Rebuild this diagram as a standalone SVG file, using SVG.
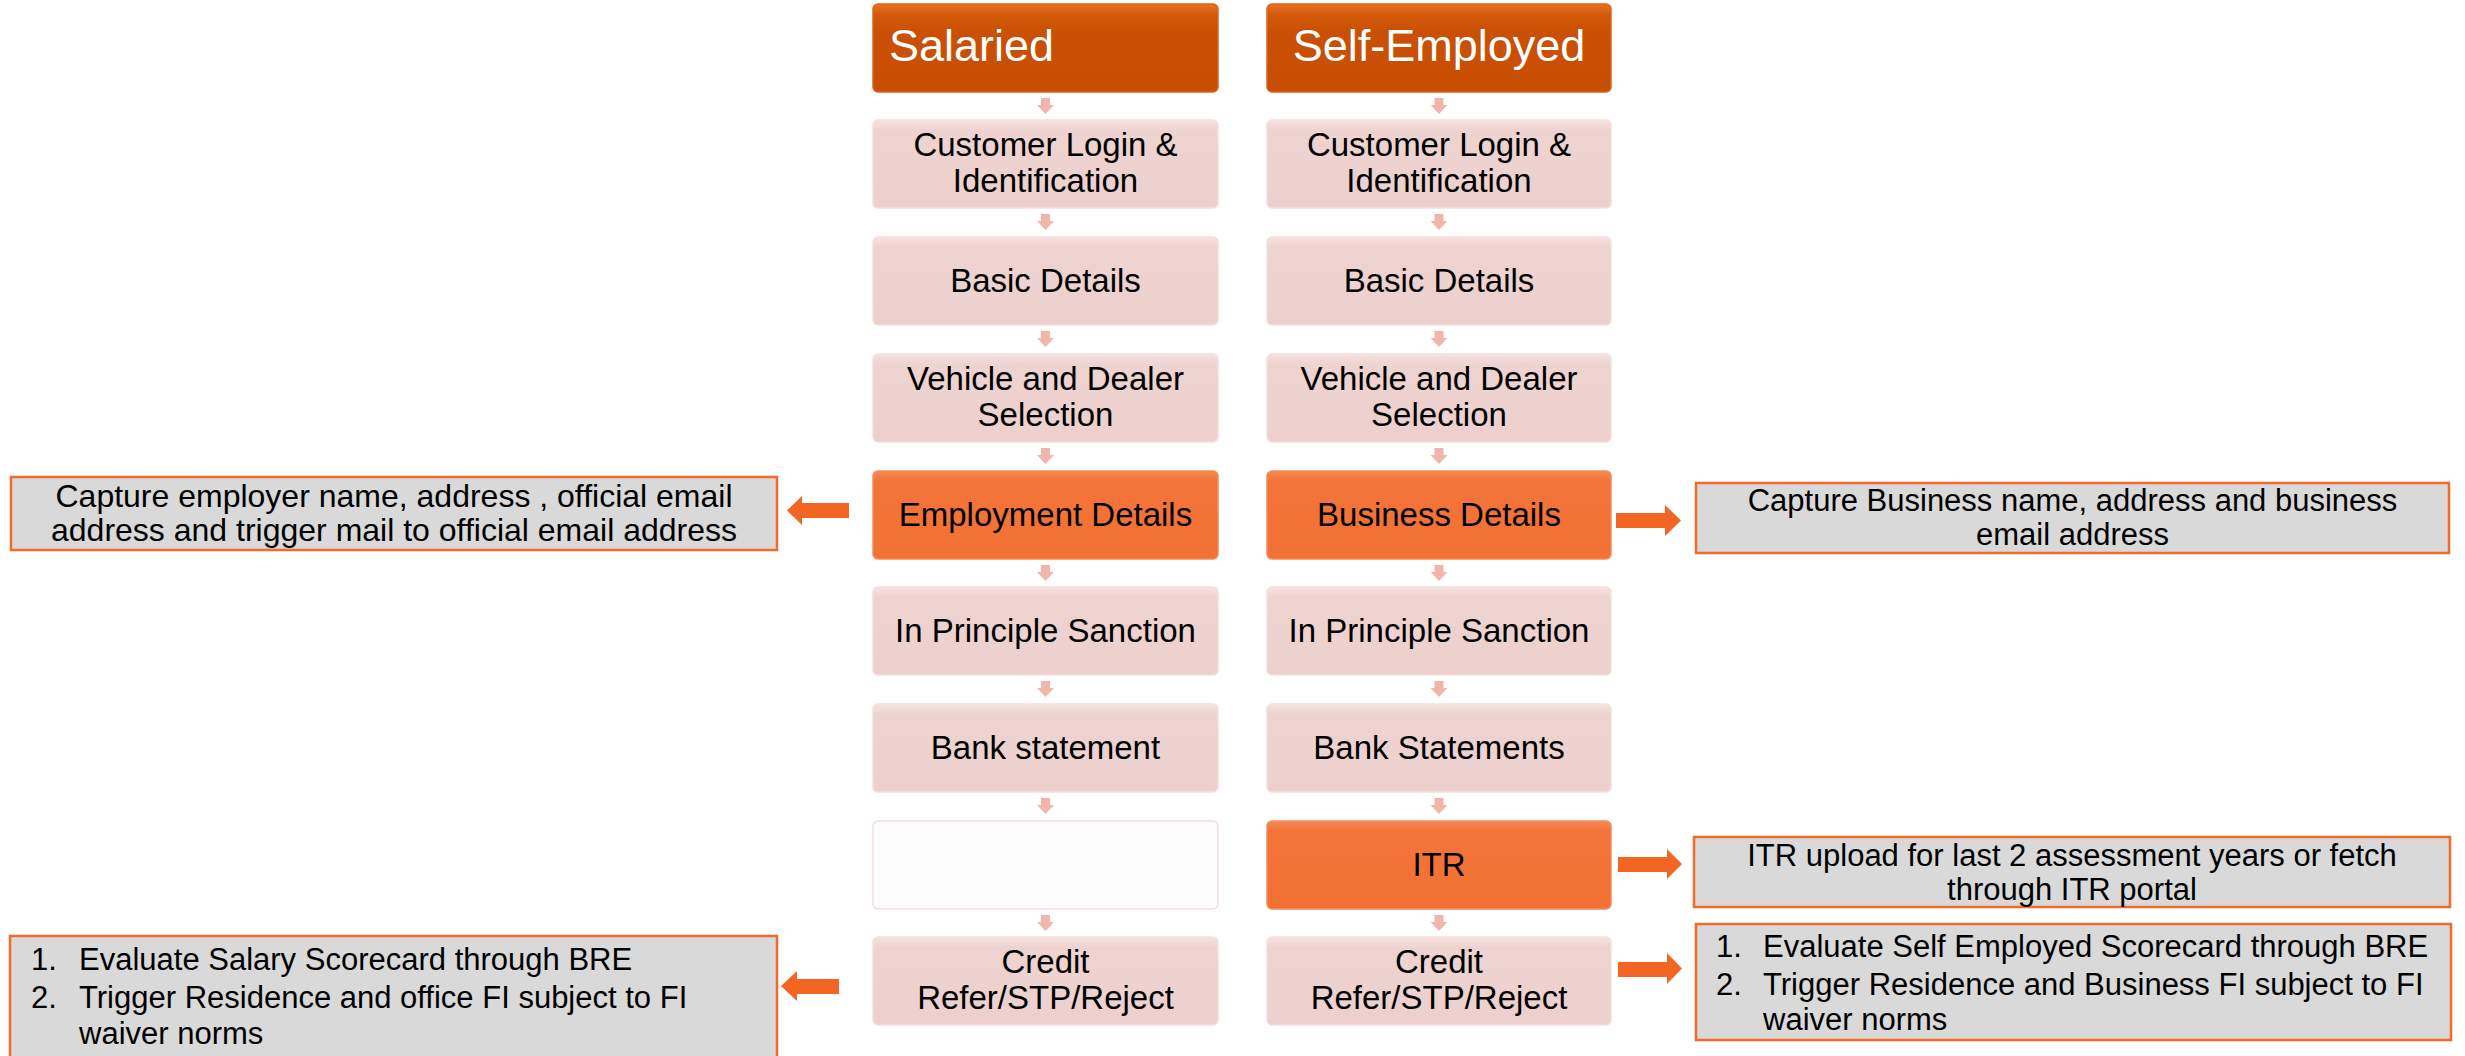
<svg xmlns="http://www.w3.org/2000/svg" width="2465" height="1056" viewBox="0 0 2465 1056">
<defs>
<linearGradient id="gHead" x1="0" y1="0" x2="0" y2="1">
<stop offset="0" stop-color="#E8741F"/>
<stop offset="0.12" stop-color="#D45A0A"/>
<stop offset="0.3" stop-color="#CA5005"/>
<stop offset="1" stop-color="#C84E04"/>
</linearGradient>
<linearGradient id="gPink" x1="0" y1="0" x2="0" y2="1">
<stop offset="0" stop-color="#F6E2E0"/>
<stop offset="0.12" stop-color="#EED3D0"/>
<stop offset="1" stop-color="#EDD0CD"/>
</linearGradient>
<linearGradient id="gOrange" x1="0" y1="0" x2="0" y2="1">
<stop offset="0" stop-color="#F58A55"/>
<stop offset="0.12" stop-color="#F37439"/>
<stop offset="1" stop-color="#F27134"/>
</linearGradient>
<style>
text{font-family:'Liberation Sans',Arial,sans-serif;}
.head rect{fill:url(#gHead);stroke:#D8661A;stroke-width:1.5;}
.pink rect{fill:url(#gPink);stroke:#F3E0DE;stroke-width:1.5;}
.orange rect{fill:url(#gOrange);stroke:#F58B58;stroke-width:1.5;}
.empty rect{fill:#FCFCFC;stroke:#F3DEDB;stroke-width:1.5;}
.ht{font-size:45px;fill:#FFFFFF;}
.bt{font-size:33px;fill:#000000;text-anchor:middle;}
.side rect{fill:#D9D9D9;stroke:#F26B2A;stroke-width:2.5;}
.st{font-size:31px;fill:#000000;}
.stc{text-anchor:middle;}
.small{fill:#F0A99D;opacity:0.85;}
.big{fill:#F26522;}
</style>
</defs>

<!-- Connectors -->
<g id="connectors">
<g class="small">
<polygon points="1041,98 1050,98 1050,105 1054,105 1045.5,114 1037,105 1041,105"/>
<polygon points="1041,214 1050,214 1050,221 1054,221 1045.5,230 1037,221 1041,221"/>
<polygon points="1041,331 1050,331 1050,338 1054,338 1045.5,347 1037,338 1041,338"/>
<polygon points="1041,448 1050,448 1050,455 1054,455 1045.5,464 1037,455 1041,455"/>
<polygon points="1041,565 1050,565 1050,572 1054,572 1045.5,581 1037,572 1041,572"/>
<polygon points="1041,681 1050,681 1050,688 1054,688 1045.5,697 1037,688 1041,688"/>
<polygon points="1041,798 1050,798 1050,805 1054,805 1045.5,814 1037,805 1041,805"/>
<polygon points="1041,915 1050,915 1050,922 1054,922 1045.5,931 1037,922 1041,922"/>
</g>
<g class="small">
<polygon points="1434.5,98 1443.5,98 1443.5,105 1447.5,105 1439,114 1430.5,105 1434.5,105"/>
<polygon points="1434.5,214 1443.5,214 1443.5,221 1447.5,221 1439,230 1430.5,221 1434.5,221"/>
<polygon points="1434.5,331 1443.5,331 1443.5,338 1447.5,338 1439,347 1430.5,338 1434.5,338"/>
<polygon points="1434.5,448 1443.5,448 1443.5,455 1447.5,455 1439,464 1430.5,455 1434.5,455"/>
<polygon points="1434.5,565 1443.5,565 1443.5,572 1447.5,572 1439,581 1430.5,572 1434.5,572"/>
<polygon points="1434.5,681 1443.5,681 1443.5,688 1447.5,688 1439,697 1430.5,688 1434.5,688"/>
<polygon points="1434.5,798 1443.5,798 1443.5,805 1447.5,805 1439,814 1430.5,805 1434.5,805"/>
<polygon points="1434.5,915 1443.5,915 1443.5,922 1447.5,922 1439,931 1430.5,922 1434.5,922"/>
</g>
<g class="big">
<polygon points="849,503 802,503 802,496 787,510.5 802,525 802,518 849,518"/>
<polygon points="839,979 797,979 797,971 781,986 797,1001 797,994 839,994"/>
<polygon points="1616,513 1665,513 1665,505 1681,520.5 1665,536 1665,528 1616,528"/>
<polygon points="1618,857 1667,857 1667,849 1682,864 1667,879 1667,872 1618,872"/>
<polygon points="1618,962 1667,962 1667,953 1682,968.5 1667,984 1667,977 1618,977"/>
</g>
</g>

<!-- Salaried column -->
<g id="salaried-header" class="head">
<rect x="873" y="4" width="345" height="88" rx="5"/>
<text class="ht" x="889" y="61">Salaried</text>
</g>
<g id="sal-login" class="pink">
<rect x="873" y="120" width="345" height="88" rx="5"/>
<text class="bt" x="1045.5" y="156">Customer Login &amp;</text>
<text class="bt" x="1045.5" y="192">Identification</text>
</g>
<g id="sal-basic" class="pink">
<rect x="873" y="237" width="345" height="88" rx="5"/>
<text class="bt" x="1045.5" y="292">Basic Details</text>
</g>
<g id="sal-vehicle" class="pink">
<rect x="873" y="354" width="345" height="88" rx="5"/>
<text class="bt" x="1045.5" y="390">Vehicle and Dealer</text>
<text class="bt" x="1045.5" y="426">Selection</text>
</g>
<g id="sal-employment" class="orange">
<rect x="873" y="471" width="345" height="88" rx="5"/>
<text class="bt" x="1045.5" y="526">Employment Details</text>
</g>
<g id="sal-sanction" class="pink">
<rect x="873" y="587" width="345" height="88" rx="5"/>
<text class="bt" x="1045.5" y="642">In Principle Sanction</text>
</g>
<g id="sal-bank" class="pink">
<rect x="873" y="704" width="345" height="88" rx="5"/>
<text class="bt" x="1045.5" y="759">Bank statement</text>
</g>
<g id="sal-empty" class="empty">
<rect x="873" y="821" width="345" height="88" rx="5"/>
</g>
<g id="sal-credit" class="pink">
<rect x="873" y="937" width="345" height="88" rx="5"/>
<text class="bt" x="1045.5" y="973">Credit</text>
<text class="bt" x="1045.5" y="1009">Refer/STP/Reject</text>
</g>

<!-- Self-Employed column -->
<g id="se-header" class="head">
<rect x="1267" y="4" width="344" height="88" rx="5"/>
<text class="ht" x="1439" y="61" text-anchor="middle">Self-Employed</text>
</g>
<g id="se-login" class="pink">
<rect x="1267" y="120" width="344" height="88" rx="5"/>
<text class="bt" x="1439" y="156">Customer Login &amp;</text>
<text class="bt" x="1439" y="192">Identification</text>
</g>
<g id="se-basic" class="pink">
<rect x="1267" y="237" width="344" height="88" rx="5"/>
<text class="bt" x="1439" y="292">Basic Details</text>
</g>
<g id="se-vehicle" class="pink">
<rect x="1267" y="354" width="344" height="88" rx="5"/>
<text class="bt" x="1439" y="390">Vehicle and Dealer</text>
<text class="bt" x="1439" y="426">Selection</text>
</g>
<g id="se-business" class="orange">
<rect x="1267" y="471" width="344" height="88" rx="5"/>
<text class="bt" x="1439" y="526">Business Details</text>
</g>
<g id="se-sanction" class="pink">
<rect x="1267" y="587" width="344" height="88" rx="5"/>
<text class="bt" x="1439" y="642">In Principle Sanction</text>
</g>
<g id="se-bank" class="pink">
<rect x="1267" y="704" width="344" height="88" rx="5"/>
<text class="bt" x="1439" y="759">Bank Statements</text>
</g>
<g id="se-itr" class="orange">
<rect x="1267" y="821" width="344" height="88" rx="5"/>
<text class="bt" x="1439" y="876">ITR</text>
</g>
<g id="se-credit" class="pink">
<rect x="1267" y="937" width="344" height="88" rx="5"/>
<text class="bt" x="1439" y="973">Credit</text>
<text class="bt" x="1439" y="1009">Refer/STP/Reject</text>
</g>

<!-- Side notes -->
<g id="note-employment" class="side">
<rect x="11" y="477" width="766" height="73"/>
<text class="st stc" x="394" y="507" style="font-size:32px">Capture employer name, address , official email</text>
<text class="st stc" x="394" y="541" style="font-size:32px">address and trigger mail to official email address</text>
</g>
<g id="note-salaried-credit" class="side">
<rect x="10" y="936" width="767" height="125"/>
<text class="st" x="31" y="970">1.</text>
<text class="st" x="79" y="970">Evaluate Salary Scorecard through BRE</text>
<text class="st" x="31" y="1008">2.</text>
<text class="st" x="79" y="1008">Trigger Residence and office FI subject to FI</text>
<text class="st" x="79" y="1044">waiver norms</text>
</g>
<g id="note-business" class="side">
<rect x="1696" y="483" width="753" height="70"/>
<text class="st stc" x="2072.5" y="511">Capture Business name, address and business</text>
<text class="st stc" x="2072.5" y="545">email address</text>
</g>
<g id="note-itr" class="side">
<rect x="1694" y="837" width="756" height="70"/>
<text class="st stc" x="2072" y="866">ITR upload for last 2 assessment years or fetch</text>
<text class="st stc" x="2072" y="900">through ITR portal</text>
</g>
<g id="note-se-credit" class="side">
<rect x="1696" y="924" width="755" height="116"/>
<text class="st" x="1716" y="957">1.</text>
<text class="st" x="1763" y="957">Evaluate Self Employed Scorecard through BRE</text>
<text class="st" x="1716" y="995">2.</text>
<text class="st" x="1763" y="995">Trigger Residence and Business FI subject to FI</text>
<text class="st" x="1763" y="1030">waiver norms</text>
</g>
</svg>
